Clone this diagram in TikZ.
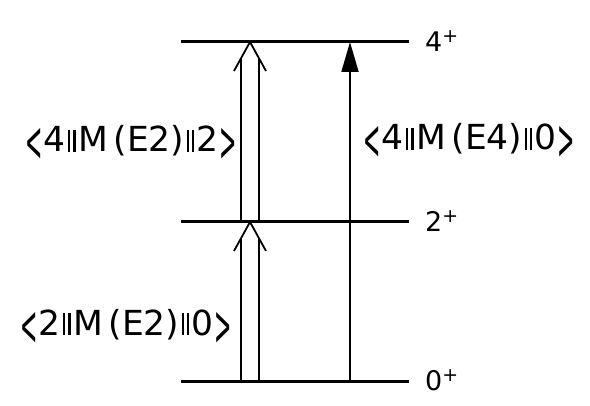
\documentclass[tikz,border=0pt]{standalone}
\usepackage{fontspec}
\setmainfont{DejaVu Sans}
\usetikzlibrary{arrows.meta, calc}

\newcommand{\nbar}{\kern2.5pt\rule{2.5pt}{22pt}\kern2.6pt\rule{2.5pt}{22pt}\kern2.5pt}
\newcommand{\lbrk}{\raisebox{-10pt}{\scalebox{0.6}[1.65]{<}}\kern1pt}
\newcommand{\rbrk}{\kern1pt\raisebox{-10pt}{\scalebox{0.6}[1.65]{>}}}

\begin{document}
\begin{tikzpicture}[x=1pt, y=1pt,
    level/.style={line width=3pt},
    trans/.style={line width=1.8pt},
    mel/.style={font=\fontsize{34.5}{40}\selectfont, anchor=base west, inner sep=0pt},
    spin/.style={font=\fontsize{27}{32}\selectfont, anchor=base west, inner sep=0pt}]
    \useasboundingbox (0,0) rectangle (590,405);

    % levels
    \foreach \n/\y in {0/24, 2/183, 4/363}{
        \draw[level] (181,\y) coordinate (L\n) -- (409,\y) coordinate (R\n);
        \node[spin] (s\n) at (425,\y-10) {\n\textsuperscript{+}};
    }

    % E2 cascade (double arrows)
    \coordinate (dA) at (250,183);
    \coordinate (uA) at (250,363);
    \foreach \apex/\base in {dA/L0, uA/L2}{
        \draw[trans] (\apex) ++(-16,-29) -- (\apex) -- ++(16,-29);
        \foreach \dx in {-9,9}
            \draw[trans] ($(\apex |- \base)+(\dx,0)$) -- ($(\apex)+(\dx,-16.3)$);
    }

    % E4 ground state excitation
    \coordinate (e4) at (350,0);
    \draw[trans, -{Triangle[length=30pt, width=17pt]}] (e4 |- L0) -- (e4 |- L4);

    \node[mel] (m42) at (25,253) {\lbrk4\nbar M\,(E2)\nbar2\rbrk};
    \node[mel] (m40) at (363,255) {\lbrk4\nbar M\,(E4)\nbar0\rbrk};
    \node[mel] (m20) at (20,70) {\lbrk2\nbar M\,(E2)\nbar0\rbrk};
\end{tikzpicture}
\end{document}
